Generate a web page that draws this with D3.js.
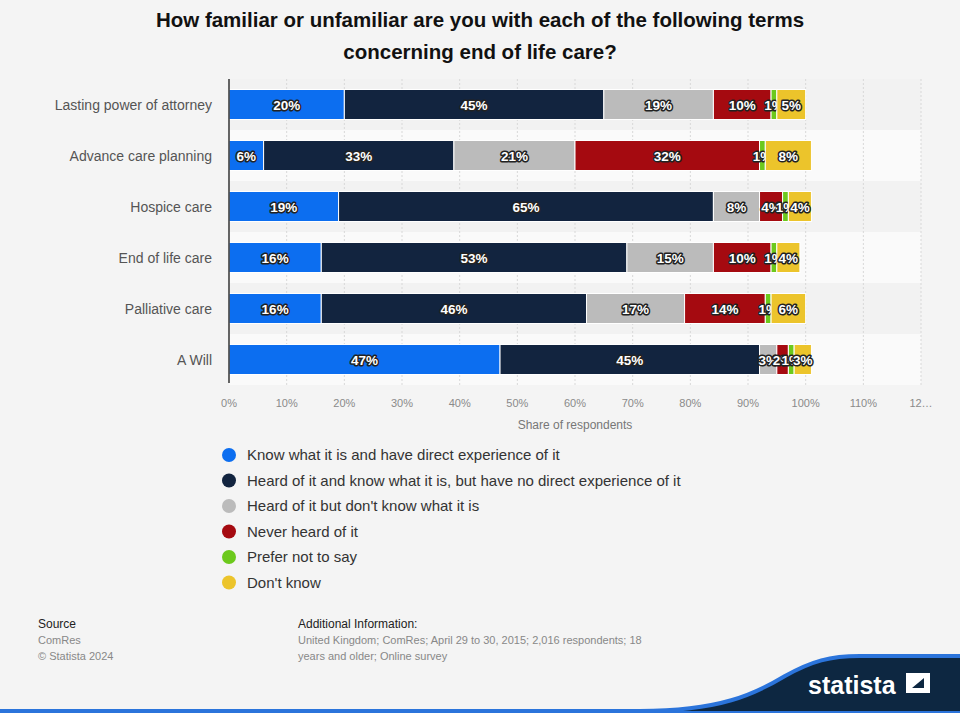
<!DOCTYPE html>
<html>
<head>
<meta charset="utf-8">
<script src="https://cdn.jsdelivr.net/npm/d3@7"></script>
<style>
	body { margin: 0; background: #f4f4f4; }
	svg { display: block; font-family: 'Liberation Sans', Arial, sans-serif; }
</style>
</head>
<body>
<svg id="chart" width="960" height="713"></svg>
<script>
const categories = ['Lasting power of attorney', 'Advance care planning', 'Hospice care', 'End of life care', 'Palliative care', 'A Will'];
const seriesNames = [
	'Know what it is and have direct experience of it',
	'Heard of it and know what it is, but have no direct experience of it',
	"Heard of it but don't know what it is",
	'Never heard of it',
	'Prefer not to say',
	"Don't know"
];
const seriesColors = ['#0c6ef0', '#12243f', '#bbbbbb', '#a50a10', '#6cc91c', '#ecc42b'];
const knowDirect = [20, 6, 19, 16, 16, 47];
const heardKnow = [45, 33, 65, 53, 46, 45];
const heardDontKnow = [19, 21, 8, 15, 17, 3];
const neverHeard = [10, 32, 4, 10, 14, 2];
const preferNot = [1, 1, 1, 1, 1, 1];
const dontKnow = [5, 8, 4, 4, 6, 3];
const xTicks = [0, 10, 20, 30, 40, 50, 60, 70, 80, 90, 100, 110, 120];

const series = [knowDirect, heardKnow, heardDontKnow, neverHeard, preferNot, dontKnow];
const rows = categories.map((c, i) => {
	const r = { category: c };
	seriesNames.forEach((s, j) => (r[s] = series[j][i]));
	return r;
});

const svg = d3.select('#chart');
const plotLeft = 229, plotRight = 921, plotTop = 79, plotBottom = 385;

const x = d3.scaleLinear().domain([0, 120]).range([plotLeft, plotRight]);
const y = d3.scaleBand().domain(categories).range([plotTop, plotBottom]).paddingInner(0).paddingOuter(0);

// title
svg.append('text')
	.attr('x', 480).attr('y', 27)
	.attr('text-anchor', 'middle')
	.style('font-size', '20.5px').style('font-weight', 'bold').style('fill', '#111')
	.selectAll('tspan')
	.data(['How familiar or unfamiliar are you with each of the following terms', 'concerning end of life care?'])
	.join('tspan')
	.attr('x', 480)
	.attr('dy', (d, i) => (i ? 32 : 0))
	.text((d) => d);

// row bands
svg.append('g').selectAll('rect')
	.data(categories)
	.join('rect')
	.attr('x', plotLeft).attr('y', (d) => y(d))
	.attr('width', plotRight - plotLeft).attr('height', y.bandwidth())
	.attr('fill', (d, i) => (i % 2 ? '#fafafa' : '#f2f2f2'));

// grid
svg.append('g').selectAll('line')
	.data(xTicks.slice(1))
	.join('line')
	.attr('x1', (d) => x(d)).attr('x2', (d) => x(d))
	.attr('y1', plotTop).attr('y2', plotBottom)
	.attr('stroke', '#d8d8d8').attr('stroke-dasharray', '2,2');

// x tick labels
svg.append('g').selectAll('text')
	.data(xTicks)
	.join('text')
	.attr('x', (d) => x(d)).attr('y', 407)
	.attr('text-anchor', 'middle')
	.style('font-size', '11px').style('fill', '#8a8a8a')
	.text((d) => (d === 120 ? '12…' : d + '%'));

svg.append('text')
	.attr('x', x(60)).attr('y', 429)
	.attr('text-anchor', 'middle')
	.style('font-size', '12px').style('fill', '#777')
	.text('Share of respondents');

// stacked bars
const stack = d3.stack().keys(seriesNames)(rows);
const barH = 30;
const layers = svg.append('g').selectAll('g')
	.data(stack)
	.join('g')
	.attr('fill', (d, i) => seriesColors[i]);

layers.selectAll('rect')
	.data((d) => d)
	.join('rect')
	.attr('x', (d) => x(d[0]))
	.attr('y', (d) => y(d.data.category) + (y.bandwidth() - barH) / 2)
	.attr('width', (d) => x(d[1]) - x(d[0]))
	.attr('height', barH)
	.attr('stroke', '#fff').attr('stroke-width', 1);

// category axis
svg.append('line')
	.attr('x1', plotLeft).attr('x2', plotLeft).attr('y1', plotTop).attr('y2', plotBottom - 2)
	.attr('stroke', '#333').attr('stroke-width', 1.5);

svg.append('g').selectAll('text')
	.data(categories)
	.join('text')
	.attr('x', plotLeft - 17)
	.attr('y', (d) => y(d) + y.bandwidth() / 2 + 5)
	.attr('text-anchor', 'end')
	.style('font-size', '14px').style('fill', '#555')
	.text((d) => d);

// value labels
layers.selectAll('text')
	.data((d) => d.map((v) => ({ v, key: d.key })))
	.join('text')
	.attr('x', (d) => (x(d.v[0]) + x(d.v[1])) / 2)
	.attr('y', (d) => y(d.v.data.category) + y.bandwidth() / 2 + 5)
	.attr('text-anchor', 'middle')
	.style('font-size', '13.5px').style('font-weight', 'bold')
	.style('fill', '#fff').style('stroke', '#222').style('stroke-width', 3)
	.style('paint-order', 'stroke').style('stroke-linejoin', 'round')
	.text((d) => d.v.data[d.key] + '%');

// legend
const legend = svg.append('g').selectAll('g')
	.data(seriesNames)
	.join('g')
	.attr('transform', (d, i) => `translate(229,${455 + i * 25.5})`);
legend.append('circle').attr('r', 7).attr('fill', (d, i) => seriesColors[i]);
legend.append('text')
	.attr('x', 18).attr('y', 5)
	.style('font-size', '15px').style('fill', '#333')
	.text((d) => d);

// footer
const foot = svg.append('g').style('font-size', '11px');
foot.append('text').attr('x', 38).attr('y', 628).style('fill', '#222').style('font-size', '12px').text('Source');
foot.append('text').attr('x', 38).attr('y', 644).style('fill', '#888').text('ComRes');
foot.append('text').attr('x', 38).attr('y', 660).style('fill', '#888').text('© Statista 2024');
foot.append('text').attr('x', 298).attr('y', 628).style('fill', '#222').style('font-size', '12px').text('Additional Information:');
foot.append('text').attr('x', 298).attr('y', 644).style('fill', '#888').text('United Kingdom; ComRes; April 29 to 30, 2015; 2,016 respondents; 18');
foot.append('text').attr('x', 298).attr('y', 660).style('fill', '#888').text('years and older; Online survey');

// logo
svg.append('rect').attr('x', 0).attr('y', 709).attr('width', 960).attr('height', 4).attr('fill', '#2b74db');
svg.append('path')
	.attr('d', 'M640,711 C720,711 755,694 785,676 C812,661 830,656 860,656 L960,656 L960,711 Z')
	.attr('fill', '#0d2741');
svg.append('path')
	.attr('d', 'M640,711 C720,711 755,694 785,676 C812,661 830,656 860,656 L960,656')
	.attr('fill', 'none').attr('stroke', '#2b74db').attr('stroke-width', 4);
svg.append('text')
	.attr('x', 808).attr('y', 694)
	.style('font-size', '25px').style('font-weight', 'bold').style('fill', '#fff')
	.text('statista');
svg.append('path')
	.attr('d', 'M906,673 L930,673 L930,693 L906,693 Z M912,688 L924,678 L924,688 Z')
	.attr('fill', '#fff').attr('fill-rule', 'evenodd');
</script>
</body>
</html>
